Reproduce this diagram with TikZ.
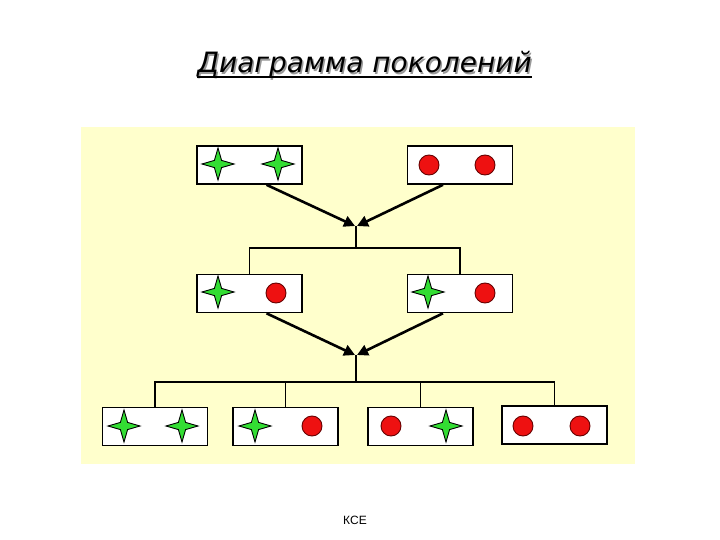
\documentclass[tikz,border=0pt]{standalone}
\usepackage{fontspec}
\setmainfont{DejaVu Sans}
\newfontfamily\kcefont{Liberation Sans}
\usetikzlibrary{arrows.meta}
\definecolor{bgyel}{HTML}{FFFFCC}
\definecolor{starg}{HTML}{33DD33}
\definecolor{dotred}{HTML}{EE1111}
\definecolor{dotedge}{HTML}{660000}
\begin{document}
\begin{tikzpicture}[x=1pt,y=-1pt,
  box/.style={draw=black, line width=1.6pt, fill=white, minimum width=105pt, minimum height=38pt, inner sep=0pt},
  link/.style={line width=1.5pt},
  arr/.style={line width=2.6pt, -{Triangle[length=11pt,width=11pt]}},
  pics/gstar/.style={code={\draw[line width=0.9pt, fill=starg] (0,-16) -- (3.6,-3.6) -- (16,0) -- (3.6,3.6) -- (0,16) -- (-3.6,3.6) -- (-16,0) -- (-3.6,-3.6) -- cycle;}},
  pics/rdot/.style={code={\draw[line width=0.9pt, draw=dotedge, fill=dotred] (0,0) circle[radius=10pt];}}
]
\useasboundingbox (0,0) rectangle (720,540);
\fill[white] (0,0) rectangle (720,540);
\fill[bgyel] (81,127) rectangle (635,464);

% title
\node[text=black!40, inner sep=0pt, anchor=base, font=\fontsize{28}{32}\selectfont\itshape] at (366,74.5) {Диаграмма поколений};
\node[inner sep=0pt, anchor=base, font=\fontsize{28}{32}\selectfont\itshape] (title) at (364.5,73) {Диаграмма поколений};
\draw[line width=1.8pt] ([yshift=-4pt]title.base west) -- ([yshift=-4pt]title.base east);

% boxes
\node[box] (a1) at (249.5,165) {};
\node[box] (a2) at (460,165) {};
\node[box] (b1) at (249.5,293.5) {};
\node[box] (b2) at (460,293.5) {};
\node[box] (c1) at (155,426.5) {};
\node[box] (c2) at (285.5,426.5) {};
\node[box] (c3) at (420.5,426.5) {};
\node[box] (c4) at (554.5,425) {};

% symbols
\pic at (218,164) {gstar};
\pic at (278,164) {gstar};
\pic at (429,165) {rdot};
\pic at (485,165) {rdot};
\pic at (218,292) {gstar};
\pic at (276,293) {rdot};
\pic at (428,292) {gstar};
\pic at (485,293) {rdot};
\pic at (124,426) {gstar};
\pic at (182,426) {gstar};
\pic at (255,426) {gstar};
\pic at (312,426) {rdot};
\pic at (391,426) {rdot};
\pic at (446,426) {gstar};
\pic at (523,426) {rdot};
\pic at (580,426) {rdot};

% junctions
\coordinate (j1) at (356,226);
\coordinate (h1) at (356,248);
\coordinate (j2) at (356,355);
\coordinate (h2) at (356,382);

\draw[arr] ([xshift=17pt]a1.south) -- ([xshift=-1pt]j1);
\draw[arr] ([xshift=-17pt]a2.south) -- ([xshift=1pt]j1);
\draw[link] (j1) -- (h1);
\draw[link] (h1) -| (b1.north);
\draw[link] (h1) -| (b2.north);

\draw[arr] ([xshift=17pt]b1.south) -- ([xshift=-1pt]j2);
\draw[arr] ([xshift=-17pt]b2.south) -- ([xshift=1pt]j2);
\draw[link] (j2) -- (h2);
\draw[link] (h2) -| (c1.north);
\draw[link] (h2) -| (c2.north);
\draw[link] (h2) -| (c3.north);
\draw[link] (h2) -| (c4.north);

\node[font=\kcefont\fontsize{12}{14}\selectfont] (kce) at (355,520) {КСЕ};
\end{tikzpicture}
\end{document}
